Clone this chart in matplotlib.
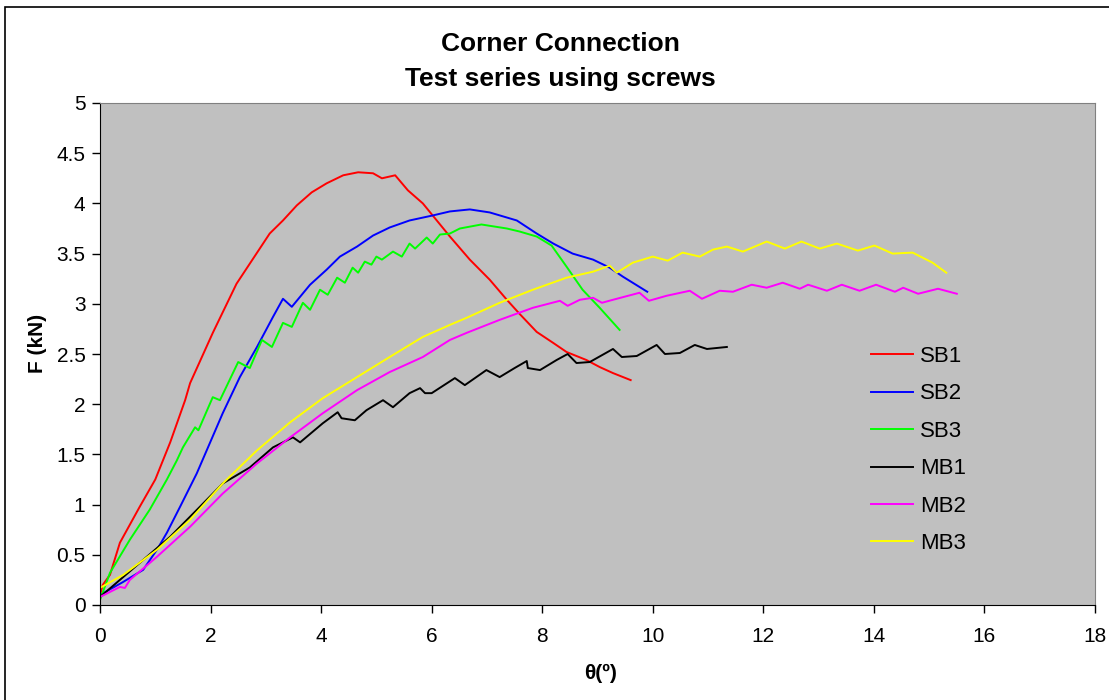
import matplotlib
matplotlib.use("Agg")
import matplotlib.pyplot as plt
from matplotlib.patches import Rectangle

# rotation angle (deg) and force (kN) for each specimen
sb1_x = [0.0, 0.05, 0.18, 0.36, 0.72, 1.0, 1.27, 1.54, 1.63, 2.04, 2.47, 2.83, 3.07, 3.31, 3.56,
         3.83, 4.1, 4.4, 4.67, 4.94, 5.1, 5.34, 5.57, 5.84, 6.33, 6.69, 7.05, 7.36, 7.59, 7.9,
         8.2, 8.44, 8.8, 9.04, 9.28, 9.6]
sb1_y = [0.1, 0.2, 0.3, 0.62, 0.98, 1.25, 1.62, 2.04, 2.21, 2.71, 3.2, 3.5, 3.7, 3.83, 3.98,
         4.11, 4.2, 4.28, 4.31, 4.3, 4.25, 4.28, 4.13, 4.0, 3.67, 3.44, 3.24, 3.04, 2.9, 2.72,
         2.61, 2.52, 2.44, 2.37, 2.31, 2.24]

sb2_x = [0.0, 0.42, 0.78, 1.03, 1.21, 1.45, 1.75, 2.04, 2.22, 2.53, 2.84, 3.13, 3.31, 3.47,
         3.62, 3.8, 4.1, 4.34, 4.65, 4.94, 5.24, 5.6, 6.02, 6.33, 6.69, 7.05, 7.54, 7.9, 8.2,
         8.55, 8.92, 9.22, 9.46, 9.9]
sb2_y = [0.1, 0.23, 0.35, 0.55, 0.72, 0.98, 1.31, 1.68, 1.91, 2.27, 2.57, 2.87, 3.05, 2.97,
         3.07, 3.19, 3.34, 3.47, 3.57, 3.68, 3.76, 3.83, 3.88, 3.92, 3.94, 3.91, 3.83, 3.7, 3.6,
         3.5, 3.44, 3.36, 3.27, 3.12]

sb3_x = [0.0, 0.18, 0.54, 0.9, 1.21, 1.39, 1.5, 1.72, 1.78, 2.04, 2.17, 2.5, 2.71, 2.93, 3.11,
         3.31, 3.47, 3.67, 3.8, 3.98, 4.12, 4.29, 4.43, 4.57, 4.67, 4.79, 4.91, 5.0, 5.1, 5.3,
         5.46, 5.6, 5.7, 5.91, 6.02, 6.15, 6.33, 6.51, 6.9, 7.36, 7.59, 7.9, 8.17, 8.44, 8.73,
         9.04, 9.4]
sb3_y = [0.05, 0.32, 0.65, 0.95, 1.25, 1.44, 1.57, 1.77, 1.74, 2.07, 2.04, 2.42, 2.36, 2.64,
         2.57, 2.81, 2.77, 3.01, 2.94, 3.14, 3.09, 3.26, 3.21, 3.36, 3.31, 3.42, 3.39, 3.47,
         3.44, 3.52, 3.47, 3.6, 3.55, 3.66, 3.6, 3.69, 3.7, 3.75, 3.79, 3.75, 3.72, 3.67, 3.58,
         3.37, 3.14, 2.96, 2.74]

mb1_x = [0.0, 1.27, 1.81, 2.22, 2.71, 3.13, 3.49, 3.62, 4.03, 4.3, 4.37, 4.61, 4.82, 5.12,
         5.3, 5.6, 5.79, 5.88, 6.0, 6.42, 6.6, 6.99, 7.23, 7.5, 7.72, 7.74, 7.96, 8.26, 8.46,
         8.62, 8.86, 9.28, 9.44, 9.71, 10.07, 10.22, 10.49, 10.76, 10.98, 11.34]
mb1_y = [0.08, 0.68, 0.98, 1.21, 1.37, 1.57, 1.67, 1.62, 1.81, 1.92, 1.86, 1.84, 1.94, 2.04,
         1.97, 2.11, 2.16, 2.11, 2.11, 2.26, 2.19, 2.34, 2.27, 2.36, 2.43, 2.36, 2.34, 2.44,
         2.5, 2.41, 2.42, 2.55, 2.47, 2.48, 2.59, 2.5, 2.51, 2.59, 2.55, 2.57]

mb2_x = [0.0, 0.36, 0.45, 0.54, 1.03, 1.63, 2.22, 2.84, 3.44, 4.03, 4.65, 5.24, 5.84, 6.33,
         6.63, 7.23, 7.83, 8.32, 8.46, 8.68, 8.92, 9.08, 9.28, 9.76, 9.93, 10.25, 10.67, 10.89,
         11.21, 11.45, 11.79, 12.06, 12.35, 12.66, 12.81, 13.15, 13.42, 13.74, 14.04, 14.38,
         14.53, 14.8, 15.16, 15.5]
mb2_y = [0.08, 0.18, 0.17, 0.25, 0.48, 0.78, 1.11, 1.41, 1.67, 1.91, 2.14, 2.32, 2.47, 2.64,
         2.71, 2.84, 2.96, 3.03, 2.98, 3.04, 3.06, 3.01, 3.04, 3.11, 3.03, 3.08, 3.13, 3.05,
         3.13, 3.12, 3.19, 3.16, 3.21, 3.15, 3.19, 3.13, 3.19, 3.13, 3.19, 3.12, 3.16, 3.1,
         3.15, 3.1]

mb3_x = [0.0, 0.0, 0.42, 1.03, 1.63, 2.22, 2.84, 3.44, 4.03, 4.65, 5.24, 5.84, 6.33, 6.63,
         7.23, 7.83, 8.44, 8.92, 9.22, 9.35, 9.64, 10.0, 10.27, 10.54, 10.85, 11.09, 11.34,
         11.63, 12.06, 12.39, 12.69, 13.02, 13.33, 13.71, 14.01, 14.34, 14.7, 15.06, 15.31]
mb3_y = [0.05, 0.17, 0.3, 0.55, 0.85, 1.21, 1.54, 1.82, 2.06, 2.27, 2.47, 2.67, 2.79, 2.86,
         3.01, 3.14, 3.26, 3.32, 3.38, 3.31, 3.41, 3.47, 3.43, 3.51, 3.47, 3.54, 3.57, 3.52,
         3.62, 3.55, 3.62, 3.55, 3.6, 3.53, 3.58, 3.5, 3.51, 3.41, 3.31]

series = [
    ("SB1", sb1_x, sb1_y, "#FF0000"),
    ("SB2", sb2_x, sb2_y, "#0000FF"),
    ("SB3", sb3_x, sb3_y, "#00FF00"),
    ("MB1", mb1_x, mb1_y, "#000000"),
    ("MB2", mb2_x, mb2_y, "#FF00FF"),
    ("MB3", mb3_x, mb3_y, "#FFFF00"),
]

plt.rcParams['font.family'] = ['Liberation Sans', 'DejaVu Sans']

fig = plt.figure(figsize=(11.09, 7.0), dpi=100)
fig.patch.set_facecolor("white")

# outer chart border
fig.add_artist(Rectangle((5 / 1109, -0.01), 1.1, 1 - 7 / 700 + 0.01, transform=fig.transFigure,
                         fill=False, edgecolor="black", linewidth=1.2))

ax = fig.add_axes([100 / 1109, 95 / 700, 995 / 1109, 502 / 700])
ax.set_facecolor("#C0C0C0")

for name, xs, ys, col in series:
    ax.plot(xs, ys, color=col, linewidth=1.4, label=name)

ax.set_xlim(0, 18)
ax.set_ylim(0, 5)
ax.set_xticks(range(0, 19, 2))
ax.set_yticks([0, 0.5, 1, 1.5, 2, 2.5, 3, 3.5, 4, 4.5, 5])
ax.set_yticklabels(["0", "0.5", "1", "1.5", "2", "2.5", "3", "3.5", "4", "4.5", "5"])
ax.tick_params(axis="both", direction="out", length=5.5, width=1, labelsize=15)
ax.tick_params(axis="x", pad=10)
ax.tick_params(axis="y", pad=5)

for side in ["top", "right"]:
    ax.spines[side].set_color("#808080")
for side in ["left", "bottom"]:
    ax.spines[side].set_color("black")

ax.set_xlabel("θ(º)", fontsize=15, fontweight="bold")
ax.set_ylabel("F (kN)", fontsize=15, fontweight="bold")
ax.xaxis.set_label_coords(0.503, -0.117)
ax.yaxis.set_label_coords(-0.053, 0.522)

fig.text(0.505, 1 - 44 / 700, "Corner Connection", ha="center", va="center",
         fontsize=19, fontweight="bold")
fig.text(0.505, 1 - 79 / 700, "Test series using screws", ha="center", va="center",
         fontsize=19, fontweight="bold")

leg = ax.legend(loc="upper left", bbox_to_anchor=(751 / 995, 279 / 502), frameon=False,
                fontsize=16, handlelength=1.9, handletextpad=0.3, labelspacing=0.74)

fig.savefig("out.png", dpi=100)
